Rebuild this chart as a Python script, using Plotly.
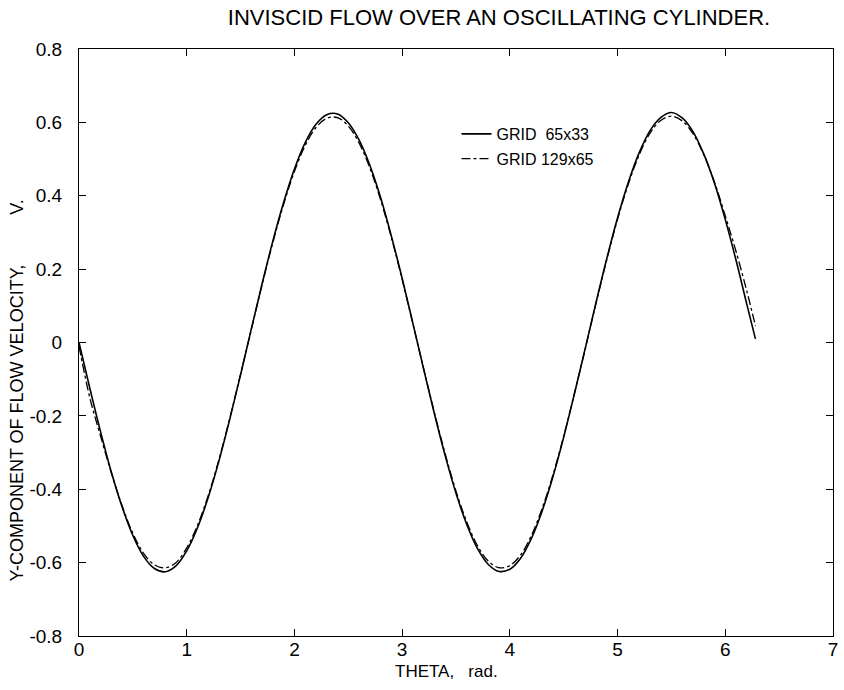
import plotly.graph_objects as go

theta = [0.0, 0.1, 0.2, 0.3, 0.4, 0.5, 0.6, 0.7, 0.8, 0.9,
         1.0, 1.1, 1.2, 1.3, 1.4, 1.5, 1.6, 1.7, 1.8, 1.9,
         2.0, 2.1, 2.2, 2.3, 2.4, 2.5, 2.6, 2.7, 2.8, 2.9,
         3.0, 3.1, 3.2, 3.3, 3.4, 3.5, 3.6, 3.7, 3.8, 3.9,
         4.0, 4.1, 4.2, 4.3, 4.4, 4.5, 4.6, 4.7, 4.8, 4.9,
         5.0, 5.1, 5.2, 5.3, 5.4, 5.5, 5.6, 5.7, 5.8, 5.9,
         6.0, 6.1, 6.2, 6.28]

v_grid65 = [0.000, -0.124, -0.243, -0.353, -0.448, -0.526, -0.583, -0.616, -0.625, -0.609,
            -0.568, -0.505, -0.422, -0.322, -0.209, -0.088, 0.037, 0.160, 0.277, 0.382,
            0.473, 0.545, 0.595, 0.621, 0.623, 0.599, 0.552, 0.483, 0.395, 0.290,
            0.175, 0.052, -0.073, -0.195, -0.309, -0.411, -0.496, -0.562, -0.605, -0.624,
            -0.618, -0.588, -0.534, -0.459, -0.366, -0.258, -0.139, -0.016, 0.109, 0.229,
            0.340, 0.437, 0.517, 0.577, 0.613, 0.627, 0.612, 0.575, 0.514, 0.434,
            0.335, 0.224, 0.104, 0.010]

v_grid129 = [-0.010, -0.150, -0.255, -0.355, -0.445, -0.520, -0.575, -0.606, -0.614, -0.600,
             -0.560, -0.498, -0.417, -0.318, -0.206, -0.086, 0.036, 0.158, 0.273, 0.377,
             0.466, 0.537, 0.586, 0.611, 0.613, 0.590, 0.544, 0.476, 0.389, 0.286,
             0.172, 0.051, -0.072, -0.192, -0.304, -0.405, -0.489, -0.554, -0.596, -0.614,
             -0.608, -0.579, -0.526, -0.452, -0.361, -0.255, -0.138, -0.017, 0.107, 0.226,
             0.336, 0.432, 0.511, 0.570, 0.605, 0.617, 0.604, 0.569, 0.512, 0.437,
             0.345, 0.248, 0.140, 0.045]

x_ticks = [0, 1, 2, 3, 4, 5, 6, 7]
y_ticks = [-0.8, -0.6, -0.4, -0.2, 0, 0.2, 0.4, 0.6, 0.8]
y_ticktext = ["-0.8", "-0.6", "-0.4", "-0.2", "0", "0.2", "0.4", "0.6", "0.8"]

FONT = "Liberation Sans, Arial, sans-serif"

fig = go.Figure()
fig.add_trace(go.Scatter(x=theta, y=v_grid65, mode="lines", name="GRID  65x33",
                         line=dict(color="black", width=1.6, shape="spline"),
                         legendgroup="a"))
fig.add_trace(go.Scatter(x=theta, y=v_grid129, mode="lines", name="GRID 129x65",
                         line=dict(color="black", width=1.3, dash="dashdot", shape="spline"),
                         legendgroup="b"))

W, H = 844, 690
ml, mr, mt, mb = 79, 6, 49, 54
pw, ph = W - ml - mr, H - mt - mb

fig.update_layout(
    width=W, height=H,
    margin=dict(l=ml, r=mr, t=mt, b=mb),
    paper_bgcolor="white", plot_bgcolor="white",
    font=dict(family=FONT, size=19, color="black"),
    title=dict(text="INVISCID FLOW OVER AN OSCILLATING CYLINDER.",
               x=499 / W, xref="container", xanchor="center",
               y=1 - 17 / H, yref="container", yanchor="middle",
               font=dict(family=FONT, size=22, color="black")),
    showlegend=True,
    legend=dict(x=(459 - ml) / pw, xanchor="left", y=(H - mb - 117) / ph, yanchor="top",
                bgcolor="rgba(0,0,0,0)", borderwidth=0, tracegroupgap=1,
                font=dict(family=FONT, size=16, color="black")),
    xaxis=dict(range=[0, 7], tickvals=x_ticks, ticktext=[str(t) for t in x_ticks],
               ticks="inside", ticklen=7, tickcolor="black", tickwidth=1,
               tickfont=dict(family=FONT, size=19, color="black"),
               ticklabelstandoff=-4,
               showline=True, linecolor="black", linewidth=1, mirror="ticks",
               showgrid=False, zeroline=False),
    yaxis=dict(range=[-0.8, 0.8], tickvals=y_ticks, ticktext=y_ticktext,
               ticks="inside", ticklen=7, tickcolor="black", tickwidth=1,
               tickfont=dict(family=FONT, size=19, color="black"),
               ticklabelstandoff=12,
               showline=True, linecolor="black", linewidth=1, mirror="ticks",
               showgrid=False, zeroline=False),
    annotations=[
        dict(text="Y-COMPONENT OF FLOW VELOCITY,          V.",
             textangle=-90, xref="paper", yref="paper",
             x=(17 - ml) / pw, y=(H - mb - 390) / ph,
             xanchor="center", yanchor="middle", showarrow=False,
             font=dict(family=FONT, size=18, color="black")),
        dict(text="THETA,   rad.", xref="paper", yref="paper",
             x=(449 - ml) / pw, y=-(671 - (H - mb)) / ph,
             xanchor="center", yanchor="middle", showarrow=False,
             font=dict(family=FONT, size=17, color="black")),
    ],
)

fig.write_html("out.html")
